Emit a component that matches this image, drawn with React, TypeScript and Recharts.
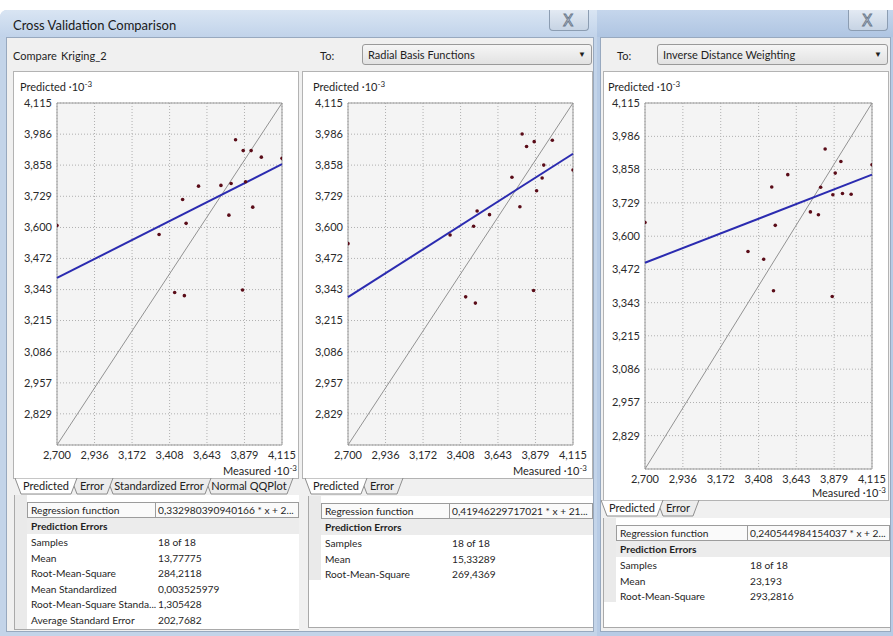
import React from "react";
import { ScatterChart, Scatter, XAxis, YAxis, CartesianGrid, ReferenceLine, ReferenceArea } from "recharts";

const FONT = "Lato, 'Noto Sans', sans-serif";

// ---- data (values in raw units; labels are shown ·10^-3) ----
const measured = [2700, 3342, 3440, 3501, 3490, 3512, 3590, 3731, 3781, 3795, 3823, 3871, 3867, 3886, 3921, 3931, 3985, 4115];
const predictedKriging = [3608, 3571, 3331, 3318, 3716, 3617, 3771, 3774, 3651, 3782, 3963, 3918, 3341, 3789, 3918, 3684, 3891, 3886];
const predictedRBF = [3533, 3569, 3313, 3287, 3605, 3668, 3653, 3808, 3686, 3987, 3935, 3955, 3339, 3752, 3805, 3858, 3961, 3838];
const predictedIDW = [3653, 3541, 3511, 3389, 3790, 3642, 3838, 3694, 3683, 3789, 3937, 3760, 3367, 3844, 3889, 3765, 3762, 3876];

const axisMin = 2700;
const axisMax = 4115;
const xTicks = [2700, 2936, 3172, 3408, 3643, 3879, 4115];
const xTickLabels = ["2,700", "2,936", "3,172", "3,408", "3,643", "3,879", "4,115"];
const yTicks = [2829, 2957, 3086, 3215, 3343, 3472, 3600, 3729, 3858, 3986, 4115];
const yTickLabels = ["2,829", "2,957", "3,086", "3,215", "3,343", "3,472", "3,600", "3,729", "3,858", "3,986", "4,115"];

const regressionSlopes = [0.332980390940166, 0.41946229717021, 0.240544984154037];
const regressionIntercepts = [2492, 2179, 2848];
const regressionLabels = ["0,332980390940166 * x + 2...", "0,41946229717021 * x + 21...", "0,240544984154037 * x + 2..."];

const statNamesKriging = ["Samples", "Mean", "Root-Mean-Square", "Mean Standardized", "Root-Mean-Square Standa...", "Average Standard Error"];
const statValuesKriging = ["18 of 18", "13,77775", "284,2118", "0,003525979", "1,305428", "202,7682"];
const statNamesOther = ["Samples", "Mean", "Root-Mean-Square"];
const statValuesRBF = ["18 of 18", "15,33289", "269,4369"];
const statValuesIDW = ["18 of 18", "23,193", "293,2816"];

const methodNames = ["Kriging_2", "Radial Basis Functions", "Inverse Distance Weighting"];

const fmtX = (v: number) => { const i = xTicks.indexOf(v); return i >= 0 ? xTickLabels[i] : ""; };
const fmtY = (v: number) => { const i = yTicks.indexOf(v); return i >= 0 ? yTickLabels[i] : ""; };

const YW = 45;
const MT = 8;
const MR = 16;
const XH = 28;
const TS = 10.2;

function CVChart({ pl, pt, pr, pb, pred, slope, intercept }: any) {
  const data = measured.map((m, i) => ({ x: m, y: pred[i] }));
  const w = pr - pl + YW + MR;
  const h = pb - pt + MT + XH;
  const tickStyle = { fontSize: 11, fill: "#2a2a2a", fontFamily: FONT };
  return (
    <div style={{ position: "absolute", left: pl - YW, top: pt - MT }}>
      <ScatterChart width={w} height={h} margin={{ top: MT, right: MR, bottom: 0, left: 0 }}>
        <CartesianGrid stroke="#b0b0b0" strokeDasharray="1 2" fill="#f4f4f4" fillOpacity={1} />
        <XAxis type="number" dataKey="x" domain={[axisMin, axisMax]} ticks={xTicks} tickFormatter={fmtX}
          allowDataOverflow interval={0} axisLine={false} tickLine={false} tickSize={4} tickMargin={2}
          height={XH} tick={tickStyle} />
        <YAxis type="number" dataKey="y" domain={[axisMin, axisMax]} ticks={yTicks} tickFormatter={fmtY}
          allowDataOverflow interval={0} axisLine={false} tickLine={false} tickSize={3} tickMargin={2}
          width={YW} tick={tickStyle} />
        <ReferenceLine segment={[{ x: axisMin, y: axisMin }, { x: axisMax, y: axisMax }]} stroke="#929292" strokeWidth={1} ifOverflow="visible" />
        <ReferenceLine segment={[{ x: axisMin, y: intercept + slope * axisMin }, { x: axisMax, y: intercept + slope * axisMax }]}
          stroke="#2b2bb0" strokeWidth={2} ifOverflow="visible" />
        <Scatter data={data} isAnimationActive={false}
          shape={(p: any) => <circle cx={p.cx} cy={p.cy} r={1.8} fill="#5a0c18" />} />
        <ReferenceArea x1={axisMin} x2={axisMax} y1={axisMin} y2={axisMax} fill="none" fillOpacity={0} stroke="#9a9a9a" strokeWidth={1} ifOverflow="visible" />
      </ScatterChart>
    </div>
  );
}

const T = ({ x, y, children, size = 11, weight = 400, color = "#1f1f1f", right }: any) => (
  <div style={{
    position: "absolute", top: y, ...(right !== undefined ? { right: 893 - right } : { left: x }),
    fontSize: size, fontWeight: weight, color, fontFamily: FONT, whiteSpace: "nowrap", lineHeight: 1,
  }}>{children}</div>
);

const Box = ({ x, y, w, h, style }: any) => (
  <div style={{ position: "absolute", left: x, top: y, width: w, height: h, boxSizing: "border-box", ...style }} />
);

function Tabs({ x, y, tabs }: { x: number; y: number; tabs: { label: string; w: number }[] }) {
  let cx = 0;
  const items = tabs.map((t, i) => { const x0 = cx; cx += t.w - 6; return { ...t, x0, i }; });
  const total = cx + 12;
  return (
    <svg style={{ position: "absolute", left: x, top: y }} width={total} height={18}>
      {items.slice().reverse().map((t) => (
        <g key={t.i}>
          <polygon points={`${t.x0},0 ${t.x0 + 6},16 ${t.x0 + t.w - 6},16 ${t.x0 + t.w},0`}
            fill={t.i === 0 ? "#ffffff" : "#ececec"} stroke="#8e8e8e" strokeWidth={1} />
          <text x={t.x0 + t.w / 2} y={12} fontSize={11} fontFamily={FONT} fill="#222" textAnchor="middle">{t.label}</text>
        </g>
      ))}
    </svg>
  );
}

function StatsTable({ x, y, w, h, gutterH, boxTop, divX, regText, names, values }: any) {
  const rowH = 15.5;
  const peTop = boxTop + 16;
  return (
    <>
      <Box x={x} y={y} w={w} h={h} style={{ background: "#fff", borderLeft: "1px solid #a9a9a9", borderBottom: "1px solid #a9a9a9" }} />
      <Box x={x + 1} y={y} w={12} h={gutterH} style={{ background: "#eaeaea" }} />
      <Box x={x + 13} y={boxTop} w={w - 13} h={16} style={{ background: "#fafafa", border: "1px solid #9c9c9c" }} />
      <Box x={divX - 3} y={boxTop} w={1} h={16} style={{ background: "#9c9c9c" }} />
      <T x={x + 17} y={boxTop + 3} size={TS}>Regression function</T>
      <T x={divX} y={boxTop + 3} size={TS}>{regText}</T>
      <Box x={x + 13} y={peTop} w={w - 13} h={16} style={{ background: "#ececec" }} />
      <T x={x + 17} y={peTop + 3} size={TS} weight={700}>Prediction Errors</T>
      {names.map((n: string, i: number) => (
        <React.Fragment key={n}>
          <T x={x + 17} y={peTop + 16 + i * rowH + 3} size={TS}>{n}</T>
          <T x={divX} y={peTop + 16 + i * rowH + 3} size={TS}>{values[i]}</T>
        </React.Fragment>
      ))}
    </>
  );
}

const Dropdown = ({ x, y, w, text }: any) => (
  <>
    <Box x={x} y={y} w={w} h={21} style={{ background: "linear-gradient(#f6f6f6,#e2e2e2)", border: "1px solid #9a9a9a", borderRadius: 3 }} />
    <T x={x + 6} y={y + 5}>{text}</T>
    <T x={x + w - 14} y={y + 6} size={8}>▼</T>
  </>
);

const CloseBtn = ({ x }: any) => (
  <>
    <Box x={x} y={10} w={40} h={21} style={{ background: "linear-gradient(#e3eaf3,#c7d4e4)", border: "1px solid #8c9db2", borderTop: "none", borderRadius: "0 0 4px 4px" }} />
    <T x={x + 14} y={13} size={15} color="#f2f4f7"><span style={{ WebkitTextStroke: "1px #6b7a8d", fontFamily: "'DejaVu Sans', sans-serif" }}>X</span></T>
  </>
);

const AxisTitle = ({ x, y, text, right }: any) => (
  <T x={x} y={y} right={right}>{text} ·10<sup style={{ fontSize: 8, verticalAlign: "4px" }}>-3</sup></T>
);

export default function App() {
  return (
    <div style={{ position: "fixed", left: 0, top: 0, width: 893, height: 636, overflow: "hidden", background: "#ffffff", fontFamily: FONT }}>
      {/* window frames */}
      <Box x={0} y={10} w={597} h={626} style={{ background: "#c3d4e9", borderTopLeftRadius: 7 }} />
      <Box x={0} y={10} w={597} h={27} style={{ background: "linear-gradient(#d9e5f3,#c1d3ea)", borderTopLeftRadius: 7 }} />
      <Box x={597} y={10} w={296} h={626} style={{ background: "#b7cbe5" }} />
      <Box x={597} y={10} w={296} h={27} style={{ background: "linear-gradient(#c5d6ec,#afc5e2)" }} />
      <T x={13} y={19} size={13} color="#1a1a1a">Cross Validation Comparison</T>
      <CloseBtn x={549} />
      <CloseBtn x={848} />

      {/* content backgrounds */}
      <Box x={6} y={37} w={588} h={595} style={{ background: "#f0f0f0", border: "1px solid #98a9bf" }} />
      <Box x={600} y={37} w={291} h={595} style={{ background: "#f0f0f0", border: "1px solid #98a9bf" }} />

      {/* header row */}
      <T x={13} y={50}>Compare</T>
      <T x={61} y={50}>Kriging_2</T>
      <T x={320} y={50}>To:</T>
      <Dropdown x={362} y={44} w={230} text={methodNames[1]} />
      <T x={617} y={50}>To:</T>
      <Dropdown x={657} y={44} w={231} text={methodNames[2]} />

      {/* chart frames */}
      <Box x={13} y={71} w={286} h={408} style={{ background: "#fff", border: "1px solid #b3b3b3" }} />
      <Box x={302} y={71} w={291} h={408} style={{ background: "#fff", border: "1px solid #b3b3b3" }} />
      <Box x={603} y={71} w={286} h={430} style={{ background: "#fff", border: "1px solid #b3b3b3" }} />

      <AxisTitle x={20} y={80} text="Predicted" />
      <AxisTitle x={313} y={80} text="Predicted" />
      <AxisTitle x={608} y={80} text="Predicted" />

      <CVChart pl={57} pt={103} pr={282} pb={445} pred={predictedKriging} slope={regressionSlopes[0]} intercept={regressionIntercepts[0]} />
      <CVChart pl={348} pt={103} pr={573} pb={445} pred={predictedRBF} slope={regressionSlopes[1]} intercept={regressionIntercepts[1]} />
      <CVChart pl={645} pt={103} pr={872} pb={469} pred={predictedIDW} slope={regressionSlopes[2]} intercept={regressionIntercepts[2]} />

      <AxisTitle right={297} y={464} text="Measured" />
      <AxisTitle right={587} y={464} text="Measured" />
      <AxisTitle right={886} y={486} text="Measured" />

      {/* tabs */}
      <Tabs x={15} y={478} tabs={[{ label: "Predicted", w: 62 }, { label: "Error", w: 42 }, { label: "Standardized Error", w: 104 }, { label: "Normal QQPlot", w: 88 }]} />
      <Tabs x={305} y={478} tabs={[{ label: "Predicted", w: 62 }, { label: "Error", w: 42 }]} />
      <Tabs x={601} y={500} tabs={[{ label: "Predicted", w: 62 }, { label: "Error", w: 42 }]} />

      {/* stats */}
      <StatsTable x={14} y={495} w={285} h={135} gutterH={134} boxTop={502} divX={158} regText={regressionLabels[0]}
        names={statNamesKriging} values={statValuesKriging} />
      <StatsTable x={308} y={496} w={285} h={132} gutterH={84} boxTop={503} divX={452} regText={regressionLabels[1]}
        names={statNamesOther} values={statValuesRBF} />
      <StatsTable x={603} y={518} w={287} h={110} gutterH={84} boxTop={525} divX={750} regText={regressionLabels[2]}
        names={statNamesOther} values={statValuesIDW} />
    </div>
  );
}
